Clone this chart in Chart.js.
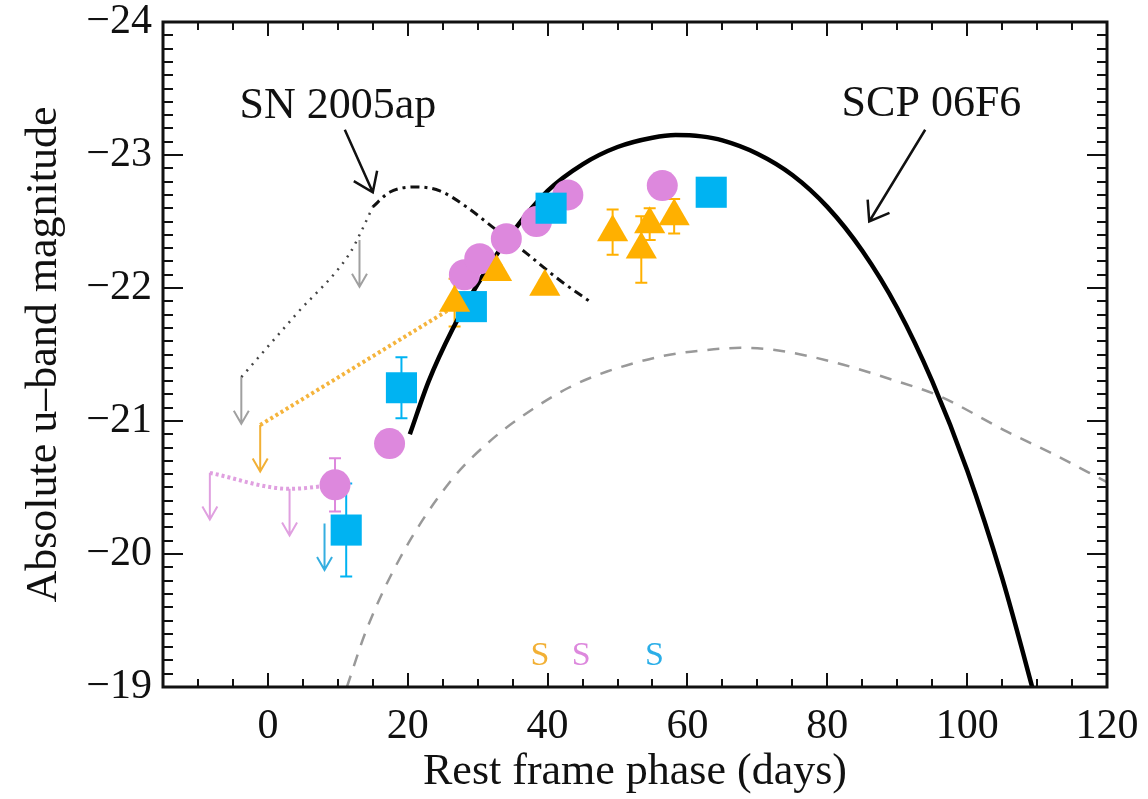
<!DOCTYPE html>
<html>
<head>
<meta charset="utf-8">
<title>SCP 06F6 u-band light curve</title>
<script src="https://cdn.jsdelivr.net/npm/chart.js@4.4.0/dist/chart.umd.min.js"></script>
<style>
	html, body { margin: 0; padding: 0; background: #fff; }
	#wrap { width: 1148px; height: 799px; }
</style>
</head>
<body>
<div id="wrap"><canvas id="chart" width="1148" height="799"></canvas></div>
<script>
// tick labels
var xTickValues = [0, 20, 40, 60, 80, 100, 120];
var yTickValues = [-24, -23, -22, -21, -20, -19];

// SCP 06F6 curve (thick black)
var scpDays = [20.3, 23, 26.4, 30, 35, 40, 45, 50, 55, 58.3, 62, 65, 70, 75, 80, 85, 90, 95, 100, 105, 109.3, 110];
var scpMag = [-20.90, -21.30, -21.69, -22.03, -22.42, -22.73, -22.93, -23.06, -23.13, -23.15, -23.14, -23.11, -23.01, -22.85, -22.61, -22.28, -21.85, -21.30, -20.63, -19.82, -19.00, -18.86];

// grey dashed curve
var cmpDays = [11.3, 14.1, 18.9, 26, 32, 37.9, 43, 48.4, 56.6, 62, 67.6, 73, 81.1, 89.3, 95.9, 105.7, 112, 120];
var cmpMag = [-19.00, -19.43, -19.97, -20.54, -20.86, -21.09, -21.25, -21.37, -21.49, -21.53, -21.55, -21.53, -21.44, -21.31, -21.19, -20.92, -20.76, -20.54];

// SN 2005ap: dotted rise, then dash-dot
var apRiseDays = [-3.8, 4, 11.7, 13.3, 15.0];
var apRiseMag = [-21.33, -21.80, -22.26, -22.42, -22.61];
var apDays = [15.0, 17.4, 21.3, 24.6, 28.4, 32.1, 37.0, 41.7, 46.0];
var apMag = [-22.61, -22.72, -22.76, -22.73, -22.61, -22.46, -22.26, -22.06, -21.90];

// dotted links from the limits to the first detections
var orLinkDays = [-1.1, 26.0];
var orLinkMag = [-20.97, -21.84];
var pkLinkDays = [-8.3, 3.1, 9.6];
var pkLinkMag = [-20.61, -20.49, -20.52];

// orange triangles
var triDays = [26.7, 32.7, 39.6, 49.3, 53.4, 54.6, 58.1];
var triMag = [-21.89, -22.12, -22.01, -22.42, -22.29, -22.48, -22.54];
var triErr = [0.18, 0.05, 0.05, 0.17, 0.25, 0.12, 0.13];

// blue squares
var sqDays = [11.2, 19.1, 29.1, 40.5, 63.4];
var sqMag = [-20.18, -21.25, -21.86, -22.60, -22.72];
var sqErr = [0.35, 0.23, 0.05, 0.05, 0.05];

// pink circles
var cDays = [9.6, 17.4, 28.1, 30.3, 34.1, 38.4, 42.9, 56.4];
var cMag = [-20.52, -20.83, -22.10, -22.22, -22.37, -22.50, -22.70, -22.77];
var cErr = [0.20, 0.05, 0.05, 0.05, 0.05, 0.05, 0.05, 0.05];

// upper limits (arrows)
var greyLimDays = [-3.8, 13.1];
var greyLimMag = [-21.33, -22.36];
var orLimDays = [-1.1];
var orLimMag = [-20.97];
var pkLimDays = [-8.3, 3.1];
var pkLimMag = [-20.61, -20.49];
var blLimDays = [8.1];
var blLimMag = [-20.23];

// labels and pointers
var noteText = ['SN 2005ap', 'SCP 06F6'];
var noteDays = [10.0, 94.9];
var noteMag = [-23.28, -23.29];
var pointerFromDays = [11.0, 94.0];
var pointerFromMag = [-23.19, -23.19];
var pointerToDays = [15.0, 86.0];
var pointerToMag = [-22.72, -22.50];

// spectrum epochs
var specDays = [38.9, 44.8, 55.3];
var specMag = -19.165;

var ORANGE = '#ffb000';
var BLUE = '#00b3f2';
var PINK = '#dd88dd';
var SERIF = "'Liberation Serif', 'DejaVu Serif', serif";
var LIM_LEN = 0.35;

function pairs(xs, ys){
	var out = [];
	for (var i = 0; i < xs.length; i++){
		out.push({x: xs[i], y: ys[i]});
	}
	return out;
}

function fmt(v){
	return v < 0 ? '\u2212' + Math.abs(v) : String(v);
}

function arrowHead(ctx, tx, ty, fx, fy, len, ang){
	var a = Math.atan2(fy - ty, fx - tx);
	ctx.moveTo(tx + len * Math.cos(a - ang), ty + len * Math.sin(a - ang));
	ctx.lineTo(tx, ty);
	ctx.lineTo(tx + len * Math.cos(a + ang), ty + len * Math.sin(a + ang));
}

// no label overhang padding, the frame is placed by layout.padding only
function noOverhang(scale){
	scale.paddingTop = 0;
	scale.paddingBottom = 0;
	scale.paddingLeft = 0;
	scale.paddingRight = 0;
}

var errorBars = {
	id: 'errorBars',
	beforeDatasetsDraw: function(chart){
		var ctx = chart.ctx, xs = chart.scales.x, ys = chart.scales.y;
		var sets = [[triDays, triMag, triErr, ORANGE], [sqDays, sqMag, sqErr, BLUE], [cDays, cMag, cErr, PINK]];
		ctx.save();
		ctx.lineWidth = 2;
		sets.forEach(function(s){
			ctx.strokeStyle = s[3];
			ctx.beginPath();
			for (var i = 0; i < s[0].length; i++){
				var px = xs.getPixelForValue(s[0][i]);
				var top = ys.getPixelForValue(s[1][i] - s[2][i]);
				var bot = ys.getPixelForValue(s[1][i] + s[2][i]);
				ctx.moveTo(px, top); ctx.lineTo(px, bot);
				ctx.moveTo(px - 6, top); ctx.lineTo(px + 6, top);
				ctx.moveTo(px - 6, bot); ctx.lineTo(px + 6, bot);
			}
			ctx.stroke();
		});
		ctx.restore();
	}
};

var limitsAndNotes = {
	id: 'limitsAndNotes',
	afterDatasetsDraw: function(chart){
		var ctx = chart.ctx, xs = chart.scales.x, ys = chart.scales.y;
		var lims = [[greyLimDays, greyLimMag, '#a0a0a0'], [orLimDays, orLimMag, '#f2b035'],
			[pkLimDays, pkLimMag, '#e0a0e0'], [blLimDays, blLimMag, '#35aee0']];
		ctx.save();
		ctx.lineWidth = 2;
		lims.forEach(function(l){
			ctx.strokeStyle = l[2];
			ctx.beginPath();
			for (var i = 0; i < l[0].length; i++){
				var px = xs.getPixelForValue(l[0][i]);
				var y0 = ys.getPixelForValue(l[1][i]);
				var y1 = ys.getPixelForValue(l[1][i] + LIM_LEN);
				ctx.moveTo(px, y0); ctx.lineTo(px, y1);
				arrowHead(ctx, px, y1, px, y0, 15, Math.PI / 6);
			}
			ctx.stroke();
		});

		// pointers
		ctx.strokeStyle = '#111';
		ctx.lineWidth = 2.5;
		ctx.beginPath();
		for (var i = 0; i < pointerFromDays.length; i++){
			var fx = xs.getPixelForValue(pointerFromDays[i]), fy = ys.getPixelForValue(pointerFromMag[i]);
			var tx = xs.getPixelForValue(pointerToDays[i]), ty = ys.getPixelForValue(pointerToMag[i]);
			ctx.moveTo(fx, fy); ctx.lineTo(tx, ty);
			arrowHead(ctx, tx, ty, fx, fy, 22, 0.62);
		}
		ctx.stroke();

		ctx.fillStyle = '#111';
		ctx.font = '44px ' + SERIF;
		ctx.textAlign = 'center';
		ctx.textBaseline = 'alphabetic';
		for (var j = 0; j < noteText.length; j++){
			ctx.fillText(noteText[j], xs.getPixelForValue(noteDays[j]), ys.getPixelForValue(noteMag[j]));
		}

		var sCols = ['#f2b035', '#dd88dd', '#2aaee8'];
		ctx.font = '34px ' + SERIF;
		for (var k = 0; k < specDays.length; k++){
			ctx.fillStyle = sCols[k];
			ctx.fillText('S', xs.getPixelForValue(specDays[k]), ys.getPixelForValue(specMag));
		}
		ctx.restore();
	}
};

var frameTicks = {
	id: 'frameTicks',
	afterDraw: function(chart){
		var ctx = chart.ctx, a = chart.chartArea, xs = chart.scales.x, ys = chart.scales.y;
		ctx.save();
		ctx.strokeStyle = '#111';
		ctx.lineWidth = 2;
		ctx.beginPath();
		var nx = Math.round((xs.max - xs.min) / 5);
		for (var i = 0; i <= nx; i++){
			var d = xs.min + i * 5;
			var px = Math.round(xs.getPixelForValue(d));
			var len = (d % 20 === 0) ? 14 : 8;
			ctx.moveTo(px, a.bottom); ctx.lineTo(px, a.bottom - len);
			ctx.moveTo(px, a.top); ctx.lineTo(px, a.top + len);
		}
		var ny = Math.round((ys.max - ys.min) / 0.1);
		for (var j = 0; j <= ny; j++){
			var py = Math.round(ys.getPixelForValue(ys.min + j * 0.1));
			var l2 = (j % 10 === 0) ? 20 : 10;
			ctx.moveTo(a.left, py); ctx.lineTo(a.left + l2, py);
			ctx.moveTo(a.right, py); ctx.lineTo(a.right - l2, py);
		}
		ctx.stroke();
		ctx.lineWidth = 3;
		ctx.strokeRect(a.left, a.top, a.right - a.left, a.bottom - a.top);
		ctx.restore();
	}
};

function lineSet(xs, ys, color, width, dash, order){
	return {
		data: pairs(xs, ys),
		showLine: true,
		borderColor: color,
		borderWidth: width,
		borderDash: dash,
		pointRadius: 0,
		fill: false,
		cubicInterpolationMode: 'monotone',
		order: order
	};
}

function markerSet(xs, ys, color, style, radius, order){
	return {
		data: pairs(xs, ys),
		showLine: false,
		pointStyle: style,
		pointRadius: radius,
		pointBackgroundColor: color,
		pointBorderWidth: 0,
		order: order
	};
}

new Chart(document.getElementById('chart'), {
	type: 'scatter',
	data: {
		datasets: [
			markerSet(triDays, triMag, ORANGE, 'triangle', 18, 0),
			markerSet(sqDays, sqMag, BLUE, 'rect', 22, 1),
			markerSet(cDays, cMag, PINK, 'circle', 15.5, 2),
			lineSet(scpDays, scpMag, '#000', 4.5, [], 3),
			lineSet(apDays, apMag, '#111', 3, [9, 5, 3, 5], 4),
			lineSet(apRiseDays, apRiseMag, '#444', 2.5, [2, 6], 5),
			lineSet(orLinkDays, orLinkMag, '#f5b43c', 4, [3, 3], 6),
			lineSet(pkLinkDays, pkLinkMag, '#e0a0e0', 4, [3, 3], 7),
			lineSet(cmpDays, cmpMag, '#999', 2.5, [12, 10], 8)
		]
	},
	options: {
		responsive: false,
		animation: false,
		events: [],
		layout: { padding: { left: 0, right: 41, top: 17, bottom: 0 } },
		plugins: { legend: { display: false }, tooltip: { enabled: false } },
		scales: {
			x: {
				type: 'linear',
				min: -15,
				max: 120,
				grid: { display: false, drawTicks: false },
				border: { display: false },
				afterBuildTicks: function(scale){
					scale.ticks = xTickValues.map(function(v){ return {value: v}; });
				},
				afterFit: function(scale){
					scale.height = 112;
					noOverhang(scale);
				},
				ticks: {
					color: '#111',
					padding: 15,
					maxRotation: 0,
					font: { family: SERIF, size: 42 },
					callback: function(v){ return fmt(v); }
				},
				title: {
					display: true,
					text: 'Rest frame phase (days)',
					color: '#111',
					font: { family: SERIF, size: 44 },
					padding: { top: 0, bottom: 0 }
				}
			},
			y: {
				type: 'linear',
				reverse: true,
				min: -24,
				max: -19,
				grid: { display: false, drawTicks: false },
				border: { display: false },
				afterBuildTicks: function(scale){
					scale.ticks = yTickValues.map(function(v){ return {value: v}; });
				},
				afterFit: function(scale){
					scale.width = 163;
					noOverhang(scale);
				},
				ticks: {
					color: '#111',
					padding: 11,
					font: { family: SERIF, size: 42 },
					callback: function(v){ return fmt(v); }
				},
				title: {
					display: true,
					text: 'Absolute u\u2013band magnitude',
					color: '#111',
					font: { family: SERIF, size: 44 },
					padding: { top: 18, bottom: 0 }
				}
			}
		}
	},
	plugins: [errorBars, limitsAndNotes, frameTicks]
});
</script>
</body>
</html>
